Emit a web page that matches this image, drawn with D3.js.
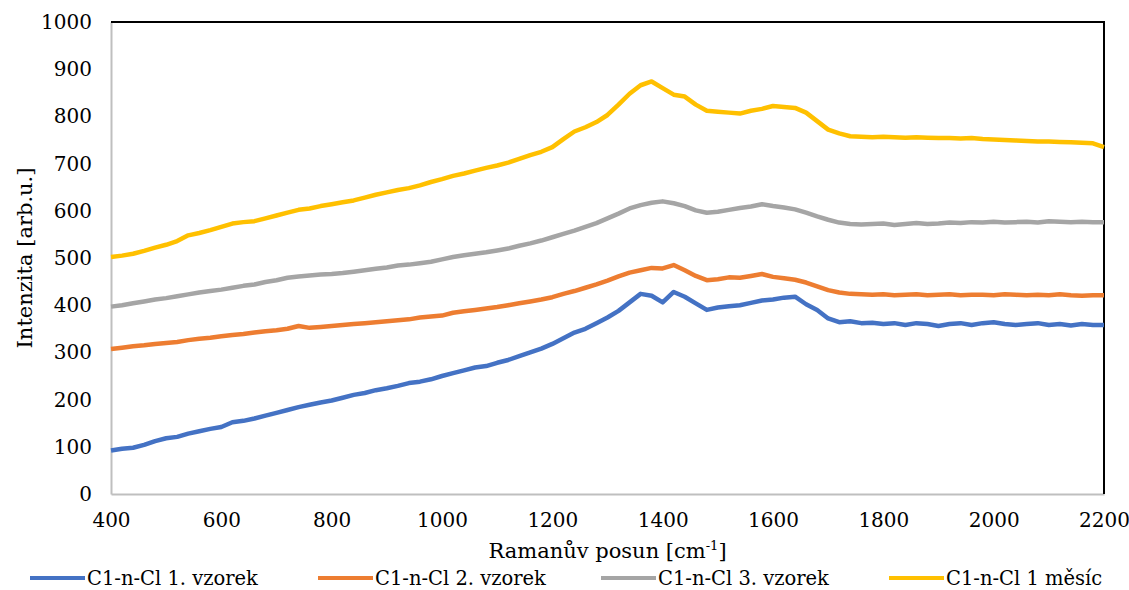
<!DOCTYPE html>
<html>
<head>
<meta charset="utf-8">
<script src="https://cdn.jsdelivr.net/npm/d3@7"></script>
<style>
  body { margin: 0; background: #fff; }
</style>
</head>
<body>
<div id="chart"></div>
<script>
// Ramanův posun, krok 20 cm-1
const shifts = d3.range(400, 2201, 20);

const xTicks = [400, 600, 800, 1000, 1200, 1400, 1600, 1800, 2000, 2200];
const yTicks = [0, 100, 200, 300, 400, 500, 600, 700, 800, 900, 1000];

const seriesNames = ["C1-n-Cl 1. vzorek", "C1-n-Cl 2. vzorek", "C1-n-Cl 3. vzorek", "C1-n-Cl 1 měsíc"];
const seriesColors = ["#4472C4", "#ED7D31", "#A5A5A5", "#FFC000"];

const vzorek1 = [92, 96, 98, 104, 112, 118, 121, 128, 133, 138, 142, 152, 155, 160, 166, 172, 178, 184, 189, 194,
  198, 204, 210, 214, 220, 224, 229, 235, 238, 243, 250, 256, 262, 268, 271, 278, 284, 292, 300, 308,
  318, 330, 342, 350, 362, 374, 388, 406, 424, 420, 406, 428, 418, 404, 390, 395, 398, 400, 405, 410,
  412, 416, 418, 402, 390, 372, 364, 366, 362, 363, 360, 362, 358, 362, 360, 356, 360, 362, 358, 362,
  364, 360, 358, 360, 362, 358, 360, 357, 360, 358, 358];

const vzorek2 = [307, 310, 313, 315, 318, 320, 322, 326, 329, 331, 334, 337, 339, 342, 345, 347, 350, 356, 352, 354,
  356, 358, 360, 362, 364, 366, 368, 370, 374, 376, 378, 384, 387, 390, 393, 396, 400, 404, 408, 412,
  417, 424, 430, 437, 444, 452, 461, 469, 474, 479, 478, 485, 474, 462, 453, 455, 459, 458, 462, 466,
  460, 457, 454, 448, 440, 432, 427, 424, 423, 422, 423, 421, 422, 423, 421, 422, 423, 421, 422, 422,
  421, 423, 422, 421, 422, 421, 423, 421, 420, 421, 421];

const vzorek3 = [397, 400, 404, 408, 412, 415, 419, 423, 427, 430, 433, 437, 441, 444, 449, 453, 458, 461, 463, 465,
  466, 468, 471, 474, 477, 480, 484, 486, 489, 492, 497, 502, 506, 509, 512, 516, 520, 526, 531, 537,
  544, 551, 558, 566, 574, 584, 594, 605, 612, 617, 620, 616, 610, 601, 596, 598, 602, 606, 609, 614,
  610, 607, 603, 596, 588, 581, 575, 572, 571, 572, 573, 570, 572, 574, 572, 573, 575, 574, 576, 575,
  577, 575, 576, 577, 575, 578, 577, 576, 577, 576, 576];

const mesic1 = [502, 505, 509, 515, 522, 528, 536, 548, 553, 559, 566, 573, 576, 578, 584, 590, 596, 602, 605, 610,
  614, 618, 622, 628, 634, 639, 644, 648, 654, 661, 667, 674, 679, 685, 691, 696, 702, 710, 718, 725,
  735, 752, 768, 777, 788, 803, 825, 848, 866, 874, 860, 846, 842, 825, 812, 810, 808, 806, 812, 816,
  822, 820, 818, 808, 790, 772, 764, 758, 757, 756, 757, 756, 755, 756, 755, 754, 754, 753, 754, 752,
  751, 750, 749, 748, 747, 747, 746, 745, 744, 743, 735];

const allSeries = [vzorek1, vzorek2, vzorek3, mesic1];

const width = 1129, height = 590;
const margin = { top: 22, right: 25, bottom: 96, left: 111 };
const serif = "'DejaVu Serif', serif";

const svg = d3.select("#chart").append("svg")
  .attr("width", width)
  .attr("height", height)
  .style("font-family", serif);

const x = d3.scaleLinear().domain([400, 2200]).range([margin.left, width - margin.right]);
const y = d3.scaleLinear().domain([0, 1000]).range([height - margin.bottom, margin.top]);

// osy bez znacek
svg.append("g")
  .attr("transform", `translate(0,${y(0)})`)
  .call(d3.axisBottom(x).tickValues(xTicks).tickFormat(d3.format("d")).tickSize(0).tickPadding(19))
  .attr("font-size", 20)
  .call(g => g.select(".domain").attr("stroke", "#BFBFBF").attr("stroke-width", 2))
  .call(g => g.selectAll("text").attr("fill", "#000").style("font-family", serif));

svg.append("g")
  .attr("transform", `translate(${x(400)},0)`)
  .call(d3.axisLeft(y).tickValues(yTicks).tickFormat(d3.format("d")).tickSize(0).tickPadding(19))
  .attr("font-size", 20)
  .call(g => g.select(".domain").attr("stroke", "#BFBFBF").attr("stroke-width", 2))
  .call(g => g.selectAll("text").attr("fill", "#000").style("font-family", serif));

// horni a prava cara ramecku
svg.append("path")
  .attr("d", `M${x(400)},${y(1000)}H${x(2200)}V${y(0)}`)
  .attr("fill", "none")
  .attr("stroke", "#000")
  .attr("stroke-width", 2);

const line = d3.line()
  .x((d, i) => x(shifts[i]))
  .y(d => y(d));

svg.append("g")
  .selectAll("path")
  .data(allSeries)
  .join("path")
  .attr("d", line)
  .attr("fill", "none")
  .attr("stroke", (d, i) => seriesColors[i])
  .attr("stroke-width", 4.5)
  .attr("stroke-linejoin", "round");

// popisky os
svg.append("text")
  .attr("transform", `translate(32,${(y(0) + y(1000)) / 2}) rotate(-90)`)
  .attr("text-anchor", "middle")
  .attr("font-size", 21)
  .text("Intenzita [arb.u.]");

const xl = svg.append("text")
  .attr("x", (x(400) + x(2200)) / 2)
  .attr("y", 558)
  .attr("text-anchor", "middle")
  .attr("font-size", 21);
xl.append("tspan").text("Ramanův posun [cm");
xl.append("tspan").attr("font-size", 13).attr("dy", -8).text("-1");
xl.append("tspan").attr("dy", 8).text("]");

// legenda
const legendX = [30, 318, 601, 889];
const legend = svg.append("g")
  .selectAll("g")
  .data(seriesNames)
  .join("g")
  .attr("transform", (d, i) => `translate(${legendX[i]},578)`);

legend.append("line")
  .attr("x1", 0).attr("x2", 55)
  .attr("stroke", (d, i) => seriesColors[i])
  .attr("stroke-width", 4);

legend.append("text")
  .attr("x", 57)
  .attr("dy", "0.35em")
  .attr("font-size", 19.5)
  .text(d => d);
</script>
</body>
</html>
